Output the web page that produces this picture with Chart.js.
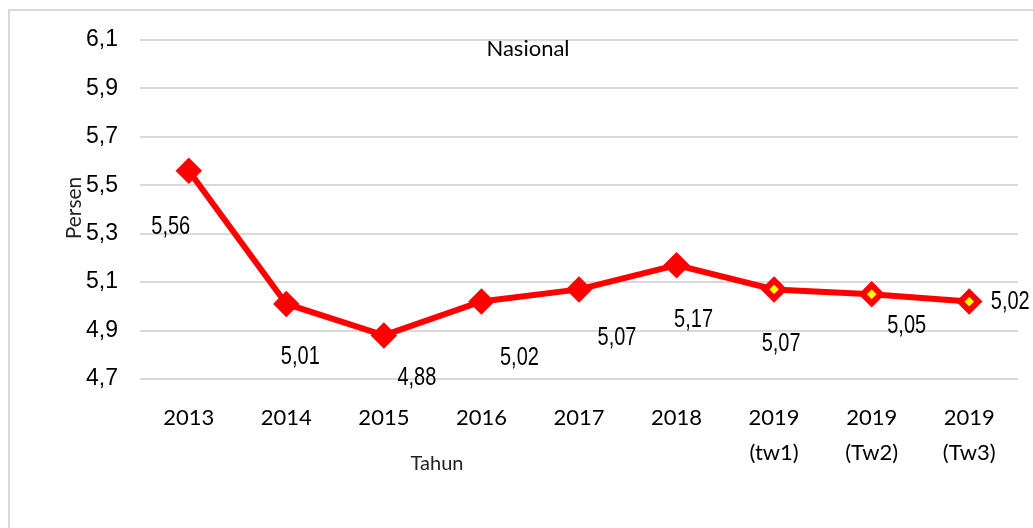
<!DOCTYPE html>
<html lang="id">
<head>
  <meta charset="UTF-8" />
  <title>Nasional</title>
  <script src="https://cdn.jsdelivr.net/npm/chart.js"></script>
  <style>
    body { margin: 0; background: #fff; }
    .wrap { position: relative; width: 1033px; height: 528px; overflow: hidden; }
    .frame { position: absolute; left: 8px; top: 9px; width: 1100px; height: 600px; border: 2px solid #d9d9d9; }
    canvas { position: absolute; left: 0; top: 0; }
  </style>
</head>
<body>
  <div class="wrap">
    <div class="frame"></div>
    <canvas id="chart" width="1033" height="528"></canvas>
  </div>

  <script>
    const categories = ['2013', '2014', '2015', '2016', '2017', '2018', ['2019', '(tw1)'], ['2019', '(Tw2)'], ['2019', '(Tw3)']];
    const persen = [5.56, 5.01, 4.88, 5.02, 5.07, 5.17, 5.07, 5.05, 5.02];
    const yTicks = [4.7, 4.9, 5.1, 5.3, 5.5, 5.7, 5.9, 6.1];

    const comma = v => v.toFixed(2).replace('.', ',');

    // where each value label sits relative to its point
    const labelOffsets = [[-18, 56], [14, 53], [33, 43], [38, 57], [38, 49], [17, 55], [7, 55], [35, 32], [41, 1]];

    const extras = {
      id: 'extras',
      afterDatasetsDraw(chart) {
        const ctx = chart.ctx;
        const pts = chart.getDatasetMeta(0).data;
        ctx.save();
        ctx.fillStyle = '#000';
        ctx.textAlign = 'center';
        ctx.textBaseline = 'middle';
        ctx.font = '25px "Liberation Sans", Arial, sans-serif';
        // squeeze the labels to look like a narrow face
        pts.forEach((p, i) => {
          const [dx, dy] = labelOffsets[i];
          ctx.save();
          ctx.translate(p.x + dx, p.y + dy);
          ctx.scale(0.8, 1);
          ctx.fillText(comma(persen[i]), 0, 0);
          ctx.restore();
        });
        ctx.font = '22px Lato';
        ctx.fillText('Nasional', 528, 49);
        ctx.font = '20px Lato';
        ctx.fillStyle = '#222';
        ctx.fillText('Tahun', 437, 464);
        ctx.font = '21px Lato';
        ctx.translate(74, 208);
        ctx.rotate(-Math.PI / 2);
        ctx.fillText('Persen', 0, 0);
        ctx.restore();
      }
    };

    new Chart(document.getElementById('chart'), {
      type: 'line',
      data: {
        labels: categories,
        datasets: [{
          data: persen,
          borderColor: '#ff0000',
          borderWidth: 6,
          pointStyle: 'rectRot',
          pointRadius: 9,
          pointBorderWidth: 6,
          pointBorderColor: '#ff0000',
          pointBackgroundColor: persen.map((v, i) => i < 6 ? '#ff0000' : '#ffff00'),
          tension: 0
        }]
      },
      options: {
        responsive: false,
        animation: false,
        layout: { padding: { top: 40, right: 13, left: 0, bottom: 0 } },
        plugins: { legend: { display: false }, tooltip: { enabled: false } },
        scales: {
          x: {
            offset: true,
            grid: { display: false },
            border: { display: false },
            ticks: { color: '#000', padding: 13, font: { family: 'Lato', size: 22, lineHeight: 1.6 } },
            afterFit: s => { s.height = 149; }
          },
          y: {
            min: 4.7,
            max: 6.1,
            afterBuildTicks: s => { s.ticks = yTicks.map(v => ({ value: v })); },
            grid: { color: '#d9d9d9', lineWidth: 2, drawTicks: false },
            border: { display: false },
            ticks: { color: '#000', padding: 22, font: { family: '"Liberation Sans", Arial, sans-serif', size: 23 }, callback: v => v.toFixed(1).replace('.', ',') },
            afterFit: s => { s.width = 140; }
          }
        }
      },
      plugins: [extras]
    });
  </script>
</body>
</html>
